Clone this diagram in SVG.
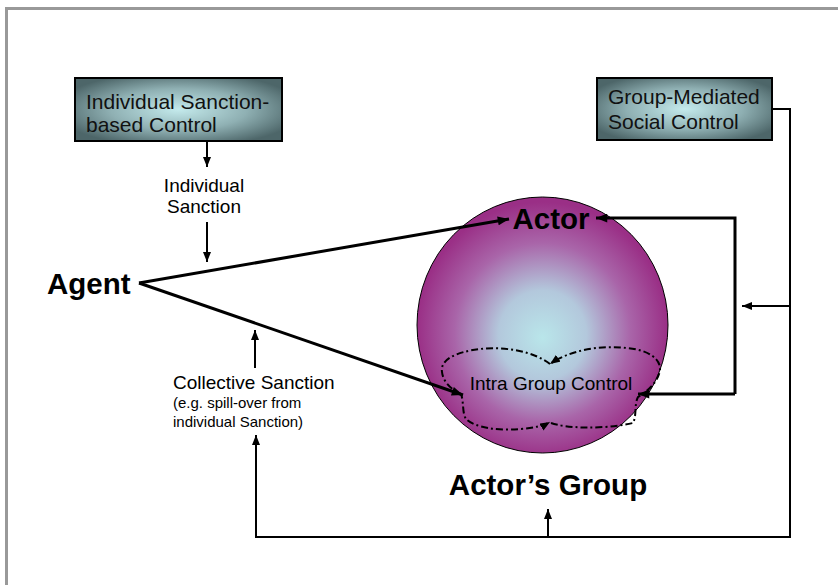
<svg xmlns="http://www.w3.org/2000/svg" width="838" height="585" viewBox="0 0 838 585">
<defs>
<radialGradient id="boxg" cx="50%" cy="50%" r="60%">
<stop offset="0" stop-color="#c4eaec"/>
<stop offset="0.55" stop-color="#8fb0b3"/>
<stop offset="1" stop-color="#4d6669"/>
</radialGradient>
<radialGradient id="ballg" cx="0.5" cy="0.52" r="0.5" fx="0.5" fy="0.55">
<stop offset="0" stop-color="#b9e6ea"/>
<stop offset="0.35" stop-color="#b3c8dc"/>
<stop offset="0.7" stop-color="#a965a9"/>
<stop offset="1" stop-color="#9a2f86"/>
</radialGradient>
<marker id="ah" viewBox="0 0 10 8" refX="10" refY="4" markerWidth="12" markerHeight="9" markerUnits="userSpaceOnUse" orient="auto">
<path d="M0,0 L10,4 L0,8 z" fill="#000"/>
</marker>
<marker id="as" viewBox="0 0 10 8" refX="10" refY="4" markerWidth="10" markerHeight="8" markerUnits="userSpaceOnUse" orient="auto">
<path d="M0,0 L10,4 L0,8 z" fill="#000"/>
</marker>
<marker id="ad" viewBox="0 0 10 8" refX="10" refY="4" markerWidth="10" markerHeight="8" markerUnits="userSpaceOnUse" orient="auto">
<path d="M0,0 L10,4 L0,8 z" fill="#000"/>
</marker>
</defs>
<style>
text{font-family:"Liberation Sans",Arial,sans-serif;fill:#000}
.big{font-size:29.5px;font-weight:bold}
.box{font-size:21px;fill:#111}
.lab{font-size:19px}
.sm{font-size:15px}
.thick{fill:none;stroke:#000;stroke-width:3}
.thin{fill:none;stroke:#000;stroke-width:2}
.dd{fill:none;stroke:#000;stroke-width:2;stroke-dasharray:7 3 2 3}
</style>
<rect x="0" y="0" width="838" height="585" fill="#fff"/>
<rect x="6.5" y="8.5" width="850" height="600" fill="none" stroke="#999" stroke-width="3"/>

<g id="ball">
<ellipse cx="542.5" cy="325" rx="125.5" ry="128" fill="url(#ballg)" stroke="#000" stroke-width="1"/>
</g>

<g id="node-isc">
<rect x="75" y="78" width="207" height="63" fill="url(#boxg)" stroke="#000" stroke-width="2"/>
<text class="box" x="86" y="109">Individual Sanction-</text>
<text class="box" x="86" y="132">based Control</text>
</g>

<g id="node-gmsc">
<rect x="597" y="78" width="175" height="62" fill="url(#boxg)" stroke="#000" stroke-width="2"/>
<text class="box" x="608" y="104">Group-Mediated</text>
<text class="box" x="608" y="129">Social Control</text>
</g>

<g id="node-agent">
<text class="big" x="47" y="294">Agent</text>
</g>

<g id="node-actor">
<text class="big" x="551" y="229" text-anchor="middle">Actor</text>
</g>

<g id="node-intra">
<text class="lab" x="551" y="390" text-anchor="middle">Intra Group Control</text>
</g>

<g id="node-group">
<text class="big" x="548" y="495" text-anchor="middle">Actor’s Group</text>
</g>

<g id="label-individual">
<text class="lab" x="204" y="192" text-anchor="middle">Individual</text>
<text class="lab" x="204" y="213" text-anchor="middle">Sanction</text>
</g>

<g id="label-collective">
<text class="lab" x="173" y="389">Collective Sanction</text>
<text class="sm" x="173" y="408">(e.g. spill-over from</text>
<text class="sm" x="173" y="427">individual Sanction)</text>
</g>

<g id="connectors">
<!-- Agent to Actor / Intra group -->
<path class="thick" d="M139,283 L509,219" marker-end="url(#ah)"/>
<path class="thick" d="M139,283 L463,395" marker-end="url(#ah)"/>
<!-- right bracket to Actor and Intra -->
<path class="thick" d="M735,394 L735,218 L596,218" marker-end="url(#ah)"/>
<path class="thick" d="M735,394 L638,394" marker-end="url(#ah)"/>
<!-- Individual sanction arrows -->
<path class="thin" d="M207,141 L207,167" marker-end="url(#as)"/>
<path class="thin" d="M207,222 L207,262" marker-end="url(#as)"/>
<!-- Group mediated -->
<path class="thin" d="M772,109 L790,109 L790,537 L256,537 L256,435" marker-end="url(#as)"/>
<path class="thin" d="M790,306 L742,306" marker-end="url(#as)"/>
<path class="thin" d="M548,537 L548,509" marker-end="url(#as)"/>
<!-- collective up arrow -->
<path class="thin" d="M255,368 L255,330" marker-end="url(#as)"/>
<!-- intra group dash-dot loop -->
<path class="dd" d="M551,423 C565,428 600,430 633,423 C637,415 634,405 638,397 C648,391 658,382 660,370 C661,360 650,350 627,348 C600,345 570,350 550,364" marker-end="url(#ad)"/>
<path class="dd" d="M550,364 C535,352 505,346 480,349 C455,352 440,360 442,372 C443,382 452,390 461,394 C464,402 462,413 466,419 C475,428 500,431 520,429 C535,428 545,425 550,422" marker-end="url(#ad)"/>
</g>
</svg>
